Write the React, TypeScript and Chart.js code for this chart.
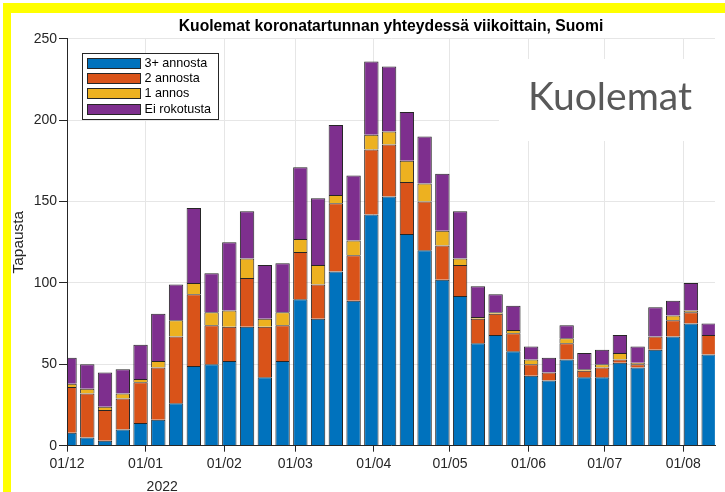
import React, { useEffect, useRef } from 'react';
import { Chart, registerables } from 'chart.js';

Chart.register(...registerables);

// ---- data ----
const WEEKS = [
  '2021-12-02', '2021-12-09', '2021-12-16', '2021-12-23', '2021-12-30',
  '2022-01-06', '2022-01-13', '2022-01-20', '2022-01-27',
  '2022-02-03', '2022-02-10', '2022-02-17', '2022-02-24',
  '2022-03-03', '2022-03-10', '2022-03-17', '2022-03-24', '2022-03-31',
  '2022-04-07', '2022-04-14', '2022-04-21', '2022-04-28',
  '2022-05-05', '2022-05-12', '2022-05-19', '2022-05-26',
  '2022-06-02', '2022-06-09', '2022-06-16', '2022-06-23', '2022-06-30',
  '2022-07-07', '2022-07-14', '2022-07-21', '2022-07-28',
  '2022-08-04', '2022-08-11',
];

const DOSE3 = [8, 5, 3, 10, 14, 16, 26, 49, 50, 52, 73, 42, 52, 90, 78, 107, 89, 142, 153, 130, 120, 102, 92, 63, 68, 58, 43, 40, 53, 42, 42, 51, 48, 59, 67, 75, 56];
const DOSE2 = [28, 27, 19, 19, 25, 32, 41, 44, 24, 21, 30, 31, 22, 29, 21, 42, 28, 40, 32, 32, 30, 21, 19, 15, 13, 11, 7, 5, 10, 4, 6, 2, 2, 8, 10, 7, 12];
const DOSE1 = [2, 3, 2, 3, 2, 4, 10, 7, 8, 10, 12, 5, 8, 8, 12, 5, 9, 9, 8, 13, 11, 9, 4, 1, 1, 2, 3, 0, 3, 1, 2, 4, 1, 0, 3, 1, 0];
const UNVACC = [16, 15, 21, 15, 21, 29, 22, 46, 24, 42, 29, 33, 30, 44, 41, 43, 40, 45, 40, 30, 29, 35, 29, 19, 11, 15, 8, 9, 8, 10, 9, 11, 10, 18, 9, 17, 7];

const SERIES_LABELS = ['3+ annosta', '2 annosta', '1 annos', 'Ei rokotusta'];
const SERIES_VALUES = [DOSE3, DOSE2, DOSE1, UNVACC];
const SERIES_COLORS = ['#0072BD', '#D95319', '#EDB120', '#7E2F8E'];

const MONTH_TICKS = ['2021-12-01', '2022-01-01', '2022-02-01', '2022-03-01', '2022-04-01', '2022-05-01', '2022-06-01', '2022-07-01', '2022-08-01'];
const MONTH_LABELS = ['01/12', '01/01', '01/02', '01/03', '01/04', '01/05', '01/06', '01/07', '01/08'];
const YEAR_DATE = '2022-01-01';
const YEAR_LABEL = '2022';
const X_START = '2021-12-01';
const X_END_DAYS = 255.5;

const Y_TICKS = [0, 50, 100, 150, 200, 250];
const TITLE = 'Kuolemat koronatartunnan yhteydessä viikoittain, Suomi';
const Y_TITLE = 'Tapausta';
const OVERLAY_TEXT = 'Kuolemat';

// ---- helpers ----
const ORIGIN = Date.parse(X_START + 'T00:00:00Z');
const toDay = (s: string) => (Date.parse(s + 'T00:00:00Z') - ORIGIN) / 86400000;

const FONT = "'Liberation Sans', Arial, Helvetica, sans-serif";
const AXIS_COLOR = '#262626';
const GRID_COLOR = '#e6e6e6';

const framePlugin = {
  id: 'frame',
  beforeDraw(chart: any) {
    const { ctx, width, height } = chart;
    ctx.save();
    ctx.fillStyle = '#ffffff';
    ctx.fillRect(0, 0, width, height);
    ctx.fillStyle = '#ffff00';
    ctx.fillRect(3, 3, width - 3, 10);
    ctx.fillRect(3, 3, 8, height - 3);
    ctx.restore();
  },
};

const overlayPlugin = {
  id: 'overlay',
  beforeDatasetsDraw(chart: any) {
    const { ctx } = chart;
    ctx.save();
    ctx.fillStyle = '#ffffff';
    ctx.fillRect(499, 59, 218, 82);
    const target = 164;
    ctx.font = `40px Lato, 'Open Sans', sans-serif`;
    const w = ctx.measureText(OVERLAY_TEXT).width;
    const size = (40 * target) / w;
    ctx.font = `${size.toFixed(2)}px Lato, 'Open Sans', sans-serif`;
    ctx.fillStyle = '#595959';
    ctx.textAlign = 'left';
    ctx.textBaseline = 'alphabetic';
    ctx.fillText(OVERLAY_TEXT, 528, 110);
    ctx.restore();
  },
  afterDraw(chart: any) {
    const { ctx, chartArea } = chart;
    ctx.save();
    // title centred over the plot area
    ctx.font = `bold 15.7px ${FONT}`;
    ctx.fillStyle = '#000000';
    ctx.textAlign = 'center';
    ctx.textBaseline = 'middle';
    ctx.fillText(TITLE, (chartArea.left + chartArea.right) / 2, 27);

    // year label under first tick of 2022
    const xs = chart.scales.x;
    ctx.font = `14px ${FONT}`;
    ctx.fillStyle = AXIS_COLOR;
    ctx.textAlign = 'left';
    ctx.textBaseline = 'middle';
    ctx.fillText(YEAR_LABEL, xs.getPixelForValue(toDay(YEAR_DATE)) + 1, 487);

    // legend
    const bx = 82, by = 53, bw = 136, bh = 66;
    ctx.fillStyle = '#ffffff';
    ctx.fillRect(bx, by, bw, bh);
    ctx.strokeStyle = AXIS_COLOR;
    ctx.lineWidth = 1;
    ctx.strokeRect(bx + 0.5, by + 0.5, bw, bh);
    chart.data.datasets.forEach((ds: any, i: number) => {
      const y0 = Math.round(58 + i * 15.23);
      ctx.fillStyle = ds.backgroundColor;
      ctx.fillRect(87, y0, 54, 11);
      ctx.strokeStyle = AXIS_COLOR;
      ctx.strokeRect(87.5, y0 + 0.5, 53, 10);
      ctx.fillStyle = '#000000';
      ctx.font = `12.6px ${FONT}`;
      ctx.textAlign = 'left';
      ctx.textBaseline = 'middle';
      ctx.fillText(ds.label, 144.5, y0 + 6);
    });
    ctx.restore();
  },
};

export default function App() {
  const ref = useRef<HTMLCanvasElement | null>(null);

  useEffect(() => {
    document.body.style.margin = '0';
    const canvas = ref.current;
    if (!canvas) return;
    const datasets = SERIES_LABELS.map((label, k) => ({
      label,
      data: WEEKS.map((w, i) => ({ x: toDay(w), y: SERIES_VALUES[k][i] })),
      backgroundColor: SERIES_COLORS[k],
      borderColor: AXIS_COLOR,
      borderWidth: 1,
      barPercentage: 1,
      categoryPercentage: 0.81,
      clip: 0,
    }));
    const chart = new Chart(canvas, {
      type: 'bar',
      data: { datasets },
      plugins: [framePlugin, overlayPlugin],
      options: {
        responsive: false,
        maintainAspectRatio: false,
        animation: false,
        devicePixelRatio: 1,
        layout: { padding: { left: 0, right: 10, top: 38.7, bottom: 0 } },
        plugins: {
          legend: { display: false },
          tooltip: { enabled: false },
          title: { display: false },
        },
        scales: {
          x: {
            type: 'linear',
            stacked: true,
            min: 0,
            max: X_END_DAYS,
            offset: false,
            afterBuildTicks: (s: any) => {
              s.ticks = MONTH_TICKS.map((d) => ({ value: toDay(d) }));
            },
            afterFit: (s: any) => {
              s.height = 46.3;
            },
            ticks: {
              autoSkip: false,
              maxRotation: 0,
              minRotation: 0,
              padding: 4,
              color: AXIS_COLOR,
              font: { family: FONT, size: 14 },
              callback: (_v: any, i: number) => MONTH_LABELS[i],
            },
            grid: { color: GRID_COLOR, tickColor: AXIS_COLOR, tickLength: 6, offset: false },
            border: { color: AXIS_COLOR, width: 1, z: 1 },
          },
          y: {
            stacked: true,
            min: 0,
            max: 250,
            afterBuildTicks: (s: any) => {
              s.ticks = Y_TICKS.map((v) => ({ value: v }));
            },
            afterFit: (s: any) => {
              s.width = 67;
            },
            ticks: {
              padding: 2,
              color: AXIS_COLOR,
              font: { family: FONT, size: 14 },
            },
            grid: { color: GRID_COLOR, tickColor: AXIS_COLOR, tickLength: 8 },
            border: { color: AXIS_COLOR, width: 1, z: 1 },
            title: {
              display: true,
              text: Y_TITLE,
              color: AXIS_COLOR,
              font: { family: FONT, size: 15.4 },
              padding: { top: 10, bottom: 0 },
            },
          },
        },
      } as any,
    });
    return () => chart.destroy();
  }, []);

  return (
    <div style={{ width: 725, height: 492, position: 'relative' }}>
      <canvas ref={ref} width={725} height={492} style={{ display: 'block', width: 725, height: 492 }} />
    </div>
  );
}
